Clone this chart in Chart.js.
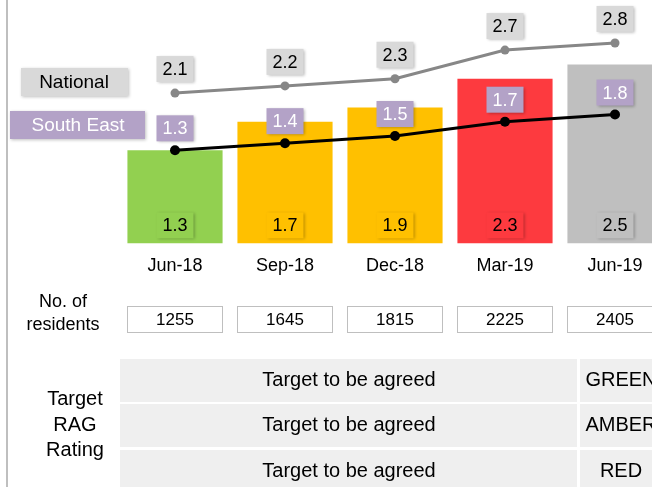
<!DOCTYPE html>
<html lang="en">
<head>
    <meta charset="UTF-8">
    <title>Rate per quarter</title>
    <script src="https://cdn.jsdelivr.net/npm/chart.js"></script>
    <style>
        body { margin: 0; overflow: hidden; background: #fff; }
        #wrap { width: 680px; height: 487px; }
    </style>
</head>
<body>
    <div id="wrap"><canvas id="rateCanvas" width="680" height="487"></canvas></div>

    <script>
        // chart values
        const months = ['Jun-18', 'Sep-18', 'Dec-18', 'Mar-19', 'Jun-19'];
        const rateValues = [1.3, 1.7, 1.9, 2.3, 2.5];
        const nationalValues = [2.1, 2.2, 2.3, 2.7, 2.8];
        const southEastValues = [1.3, 1.4, 1.5, 1.7, 1.8];
        const residents = [1255, 1645, 1815, 2225, 2405];
        const targetTexts = ['Target to be agreed', 'Target to be agreed', 'Target to be agreed'];
        const ragLabels = ['GREEN', 'AMBER', 'RED'];

        const FONT = '"Liberation Sans", Arial, sans-serif';

        // small label box with a soft shadow
        function labelBox(ctx, text, cx, cy, w, h, bg, fg) {
            ctx.save();
            ctx.shadowColor = 'rgba(0,0,0,0.3)';
            ctx.shadowBlur = 3;
            ctx.shadowOffsetX = 1;
            ctx.shadowOffsetY = 1;
            ctx.fillStyle = bg;
            ctx.fillRect(cx - w / 2, cy - h / 2, w, h);
            ctx.restore();
            ctx.fillStyle = fg;
            ctx.font = '18px ' + FONT;
            ctx.textAlign = 'center';
            ctx.textBaseline = 'middle';
            ctx.fillText(text, cx, cy + 1);
        }

        const labelsPlugin = {
            id: 'labelsPlugin',
            afterDatasetsDraw(chart) {
                const ctx = chart.ctx;
                const area = chart.chartArea;
                const barMeta = chart.getDatasetMeta(0);
                const natMeta = chart.getDatasetMeta(1);
                const seMeta = chart.getDatasetMeta(2);
                const barColours = chart.data.datasets[0].backgroundColor;

                barMeta.data.forEach((bar, i) => {
                    labelBox(ctx, rateValues[i].toFixed(1), bar.x, area.bottom - 18, 37, 26, barColours[i], '#000');
                });
                natMeta.data.forEach((pt, i) => {
                    labelBox(ctx, nationalValues[i].toFixed(1), pt.x, pt.y - 24, 37, 26, '#d9d9d9', '#000');
                });
                seMeta.data.forEach((pt, i) => {
                    labelBox(ctx, southEastValues[i].toFixed(1), pt.x, pt.y - 22, 37, 26, '#b3a2c7', '#fff');
                });
            },
            afterDraw(chart) {
                const ctx = chart.ctx;
                const xs = chart.scales.x;
                ctx.save();

                // series names at the left
                ctx.save();
                ctx.shadowColor = 'rgba(0,0,0,0.25)';
                ctx.shadowBlur = 3;
                ctx.shadowOffsetX = 1;
                ctx.shadowOffsetY = 1;
                ctx.fillStyle = '#d9d9d9';
                ctx.fillRect(21, 68, 107, 28);
                ctx.fillStyle = '#b3a2c7';
                ctx.fillRect(10, 111, 135, 28);
                ctx.restore();
                ctx.font = '19px ' + FONT;
                ctx.textAlign = 'center';
                ctx.textBaseline = 'middle';
                ctx.fillStyle = '#000';
                ctx.fillText('National', 74, 83);
                ctx.fillStyle = '#fff';
                ctx.fillText('South East', 78, 126);

                // number of residents row
                ctx.font = '18px ' + FONT;
                ctx.fillStyle = '#000';
                ctx.fillText('No. of', 63, 302);
                ctx.fillText('residents', 63, 325);
                residents.forEach((n, i) => {
                    const cx = xs.getPixelForValue(i);
                    ctx.fillStyle = '#fff';
                    ctx.fillRect(cx - 48, 306, 96, 27);
                    ctx.strokeStyle = '#bfbfbf';
                    ctx.lineWidth = 1;
                    ctx.strokeRect(cx - 47.5, 306.5, 95, 26);
                    ctx.fillStyle = '#000';
                    ctx.font = '17px ' + FONT;
                    ctx.fillText(String(n), cx, 320);
                });

                // target RAG rating table
                ctx.font = '20px ' + FONT;
                ctx.fillStyle = '#000';
                ctx.fillText('Target', 75, 399);
                ctx.fillText('RAG', 75, 425);
                ctx.fillText('Rating', 75, 450);
                const rowTops = [359, 404, 450];
                const rowH = 43;
                targetTexts.forEach((t, i) => {
                    const top = rowTops[i];
                    ctx.fillStyle = '#efefef';
                    ctx.fillRect(120, top, 457, rowH);
                    ctx.fillRect(580, top, 100, rowH);
                    ctx.fillStyle = '#000';
                    ctx.font = '20px ' + FONT;
                    ctx.fillText(t, 349, top + 21);
                    ctx.fillText(ragLabels[i], 621, top + 21);
                });

                // left border line
                ctx.strokeStyle = '#bfbfbf';
                ctx.lineWidth = 2;
                ctx.beginPath();
                ctx.moveTo(7, 0);
                ctx.lineTo(7, 487);
                ctx.stroke();
                ctx.restore();
            }
        };

        const ctx = document.getElementById('rateCanvas').getContext('2d');
        const rateChart = new Chart(ctx, {
            data: {
                labels: months,
                datasets: [
                    {
                        type: 'bar',
                        label: 'Rate',
                        data: rateValues,
                        backgroundColor: ['#92d050', '#ffc000', '#ffc000', '#fd3a3f', '#bfbfbf'],
                        barPercentage: 0.865,
                        categoryPercentage: 1,
                        order: 3
                    },
                    {
                        type: 'line',
                        label: 'National',
                        data: nationalValues,
                        borderColor: '#878787',
                        backgroundColor: '#878787',
                        borderWidth: 3,
                        pointRadius: 4.5,
                        pointBorderWidth: 0,
                        order: 2
                    },
                    {
                        type: 'line',
                        label: 'South East',
                        data: southEastValues,
                        borderColor: '#000',
                        backgroundColor: '#000',
                        borderWidth: 3,
                        pointRadius: 5,
                        pointBorderWidth: 0,
                        order: 1
                    }
                ]
            },
            options: {
                responsive: false,
                animation: false,
                layout: { padding: { left: 120, right: 10, top: 0, bottom: 198 } },
                plugins: {
                    legend: { display: false },
                    tooltip: { enabled: false }
                },
                scales: {
                    x: {
                        grid: { display: false, drawTicks: false },
                        border: { display: false },
                        ticks: {
                            padding: 12,
                            color: '#000',
                            font: { family: FONT, size: 18 }
                        }
                    },
                    y: {
                        display: false,
                        min: 0,
                        max: 3.33
                    }
                }
            },
            plugins: [labelsPlugin]
        });
    </script>
</body>
</html>
